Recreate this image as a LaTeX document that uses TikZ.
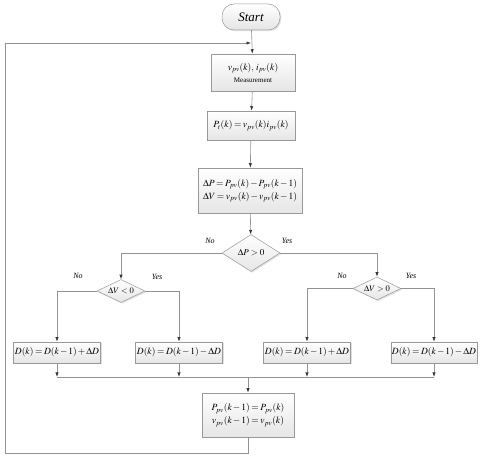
\documentclass[tikz,border=0pt]{standalone}
\usepackage{mathptmx}
\usepackage[no-math]{fontspec}
\setmainfont{Liberation Serif}
\usetikzlibrary{arrows.meta,shapes.geometric,shadows}
\newcommand{\mytightmath}{\medmuskip=2mu\relax\thickmuskip=3mu\relax}
\tikzset{
  linecol/.style={draw=gray!85, line width=0.6pt},
  arr/.style={linecol, -{Latex[length=4.5pt,width=3.2pt,color=gray!40!black]}},
  boxfill/.style={draw=gray!80, line width=0.5pt, top color=white, bottom color=gray!20,
    drop shadow={shadow xshift=1.2pt,shadow yshift=-1.2pt,fill=gray!50,opacity=0.5}},
  procbox/.style={boxfill, rectangle, inner sep=1pt, align=center,
    font=\fontsize{9.5}{13}\selectfont\mytightmath},
  termbox/.style={boxfill, rectangle, rounded corners=12pt, minimum width=58pt, minimum height=26pt,
    font=\fontsize{13}{15}\selectfont\itshape},
  decbox/.style={boxfill, diamond, aspect=1.6, inner sep=0pt, font=\fontsize{9}{11}\selectfont},
  lab/.style={font=\fontsize{8}{10}\selectfont\itshape, inner sep=0pt}
}
\begin{document}
\begin{tikzpicture}[x=1pt,y=-1pt]
\useasboundingbox (0,0) rectangle (480,457);
% nodes
\node[termbox] (start) at (251,17) {Start};
\node[procbox, minimum width=84pt, minimum height=37pt] (meas) at (253,72.5)
  {$v_{pv}(k),\, i_{pv}(k)$\\[-1pt]{\fontsize{7}{8}\selectfont Measurement}};
\node[procbox, minimum width=88pt, minimum height=29pt] (pt) at (251,125.5)
  {$P_t(k)=v_{pv}(k)i_{pv}(k)$};
\node[procbox, minimum width=104pt, minimum height=45pt] (dp) at (250,190.5)
  {$\Delta P = P_{pv}(k)-P_{pv}(k-1)$\\$\Delta V = v_{pv}(k)-v_{pv}(k-1)$};
\node[decbox, minimum width=58pt, minimum height=37pt] (d0) at (251,253) {$\Delta P>0$};
\node[decbox, minimum width=48pt, minimum height=23pt, font=\fontsize{8.5}{10}\selectfont] (dl) at (121,291) {$\Delta V<0$};
\node[decbox, minimum width=48pt, minimum height=23pt, font=\fontsize{8.5}{10}\selectfont] (dr) at (377,288.5) {$\Delta V>0$};
\node[procbox, minimum width=87pt, minimum height=21pt] (D1) at (57,352.5) {$D(k)=D(k-1)+\Delta D$};
\node[procbox, minimum width=87pt, minimum height=21pt] (D2) at (179,352.5) {$D(k)=D(k-1)-\Delta D$};
\node[procbox, minimum width=87pt, minimum height=21pt] (D3) at (307,352.5) {$D(k)=D(k-1)+\Delta D$};
\node[procbox, minimum width=85pt, minimum height=21pt] (D4) at (434,352.5) {$D(k)=D(k-1)-\Delta D$};
\node[procbox, minimum width=92pt, minimum height=44pt] (fin) at (248,415)
  {$P_{pv}(k-1)=P_{pv}(k)$\\$v_{pv}(k-1)=v_{pv}(k)$};
% labels
\node[lab] (l1) at (210,241) {No};
\node[lab] (l2) at (287,241) {Yes};
\node[lab] (l3) at (78,276) {No};
\node[lab] (l4) at (157,277) {Yes};
\node[lab] (l5) at (342,276) {No};
\node[lab] (l6) at (411,276) {Yes};
% coordinates
\coordinate (fb) at (251,43);
\coordinate (m1) at (57,377);
\coordinate (m4) at (434,377);
\coordinate (mj) at (248,377);
\coordinate (c1) at (5,453);
% connectors
\draw[arr] (start) -- (meas);
\draw[arr] (meas) -- (pt);
\draw[arr] (pt) -- (dp);
\draw[arr] (dp) -- (d0);
\draw[arr] (d0.west) -| (dl.north);
\draw[arr] (d0.east) -| (dr.north);
\draw[arr] (dl.west) -| (D1.north);
\draw[arr] (dl.east) -| (D2.north);
\draw[arr] (dr.west) -| (D3.north);
\draw[arr] (dr.east) -| (D4.north);
\draw[arr] (D1.south) -- (D1.south |- m1);
\draw[arr] (D2.south) -- (D2.south |- m1);
\draw[arr] (D3.south) -- (D3.south |- m1);
\draw[arr] (D4.south) -- (D4.south |- m1);
\draw[linecol] (m1) -- (m4);
\draw[arr] (mj) -- (fin.north);
\draw[linecol] (fin.south) |- (c1);
\draw[arr] (c1) |- (fb);
\end{tikzpicture}
\end{document}
